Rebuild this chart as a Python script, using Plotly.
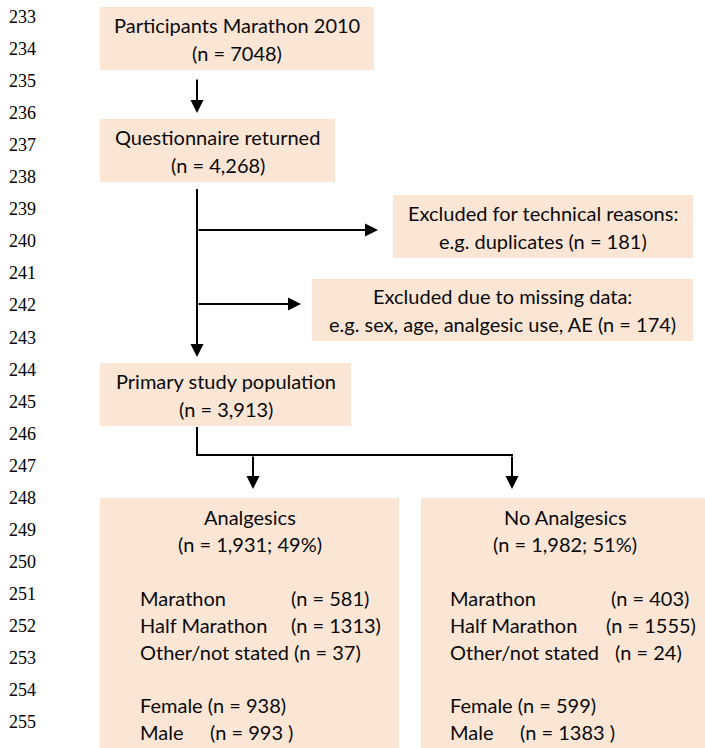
import plotly.graph_objects as go

# ---------------- data ----------------
line_numbers = list(range(233, 257))

top_titles = ["Participants Marathon 2010", "Questionnaire returned", "Primary study population"]
top_counts = ["(n = 7048)", "(n = 4,268)", "(n = 3,913)"]

excl_titles = ["Excluded for technical reasons:", "Excluded due to missing data:"]
excl_details = ["e.g. duplicates (n = 181)", "e.g. sex, age, analgesic use, AE (n = 174)"]

group_titles = ["Analgesics", "No Analgesics"]
group_counts = ["(n = 1,931; 49%)", "(n = 1,982; 51%)"]
distance_labels = ["Marathon", "Half Marathon", "Other/not stated"]
distance_counts = [["(n = 581)", "(n = 1313)", "(n = 37)"],
                   ["(n = 403)", "(n = 1555)", "(n = 24)"]]
female_counts = ["(n = 938)", "(n = 599)"]
male_counts = ["(n = 993 )", "(n = 1383 )"]

# ---------------- layout geometry ----------------
FILL = "#FBE6D6"
FONT = "Lato"
FS = 20
TXT = "#0a0a0a"

fig = go.Figure()
fig.add_trace(go.Scatter(x=[0], y=[0], mode="markers", marker=dict(opacity=0), hoverinfo="skip", showlegend=False))

shapes = []
ann = []

def box(x0, y0, x1, y1):
    shapes.append(dict(type="rect", x0=x0, y0=y0, x1=x1, y1=y1, xref="x", yref="y",
                       fillcolor=FILL, line=dict(width=0), layer="below"))

def text(x, y, s, anchor="center", size=FS):
    ann.append(dict(x=x, y=y, text=s, showarrow=False, xref="x", yref="y",
                    xanchor=anchor, yanchor="middle",
                    font=dict(family=FONT, size=size, color=TXT)))

def line(x0, y0, x1, y1):
    shapes.append(dict(type="line", x0=x0, y0=y0, x1=x1, y1=y1, xref="x", yref="y",
                       line=dict(color="black", width=2)))

def arrow(x0, y0, x1, y1):
    ann.append(dict(x=x1, y=y1, ax=x0, ay=y0, xref="x", yref="y", axref="x", ayref="y",
                    text="", showarrow=True, arrowhead=2, arrowsize=1.3, arrowwidth=2,
                    arrowcolor="black", standoff=0, startstandoff=0))

# line numbers
for i, n in enumerate(line_numbers):
    ann.append(dict(x=7, y=17 + 32.05 * i, text=str(n), showarrow=False, xref="x", yref="y",
                    xanchor="left", yanchor="middle",
                    font=dict(family="Liberation Serif", size=18, color="black")))

# top boxes
top_boxes = [(100, 7, 374, 70), (100, 119, 335, 182), (100, 363, 351, 426)]
for (x0, y0, x1, y1), t, c in zip(top_boxes, top_titles, top_counts):
    box(x0, y0, x1, y1)
    cx = (x0 + x1) / 2
    cy = (y0 + y1) / 2
    text(cx, cy - 14, t)
    text(cx, cy + 14, c)

# exclusion boxes
excl_boxes = [(393, 195, 693, 258), (312, 279, 693, 341)]
for (x0, y0, x1, y1), t, d in zip(excl_boxes, excl_titles, excl_details):
    box(x0, y0, x1, y1)
    cx = (x0 + x1) / 2
    cy = (y0 + y1) / 2
    text(cx, cy - 14, t)
    text(cx, cy + 14, d)

# group boxes
group_boxes = [(100, 498, 399, 760), (421, 498, 705, 760)]
title_cx = [250, 565]
left_x = [138, 448]
count_x = [[289, 289, None], [609, 604, 613]]
male_x = [208, 518]
for g in range(2):
    x0, y0, x1, y1 = group_boxes[g]
    box(x0, y0, x1, y1)
    text(title_cx[g], 517, group_titles[g])
    text(title_cx[g], 544, group_counts[g])
    ys = [598, 625, 652]
    for k in range(3):
        if count_x[g][k] is None:
            text(left_x[g], ys[k], distance_labels[k] + " " + distance_counts[g][k], anchor="left")
        else:
            text(left_x[g], ys[k], distance_labels[k], anchor="left")
            text(count_x[g][k], ys[k], distance_counts[g][k], anchor="left")
    text(left_x[g], 705, "Female " + female_counts[g], anchor="left")
    text(left_x[g], 732, "Male", anchor="left")
    text(male_x[g], 732, male_counts[g], anchor="left")

# connectors
arrow(197, 78, 197, 113)
line(197, 189, 197, 330)
arrow(197, 189, 197, 357)
arrow(197, 230, 378, 230)
arrow(197, 304, 301, 304)
line(197, 427, 197, 455)
line(196, 455, 513, 455)
arrow(253, 455, 253, 489)
arrow(512, 455, 512, 489)

fig.update_layout(
    width=705, height=748,
    margin=dict(l=0, r=0, t=0, b=0),
    paper_bgcolor="white", plot_bgcolor="white",
    xaxis=dict(range=[0, 705], visible=False, fixedrange=True),
    yaxis=dict(range=[748, 0], visible=False, fixedrange=True),
    shapes=shapes, annotations=ann, showlegend=False,
)

fig.write_html("out.html", config={"displayModeBar": False},
               post_script="document.body.style.margin='0';document.body.style.overflow='hidden';")
